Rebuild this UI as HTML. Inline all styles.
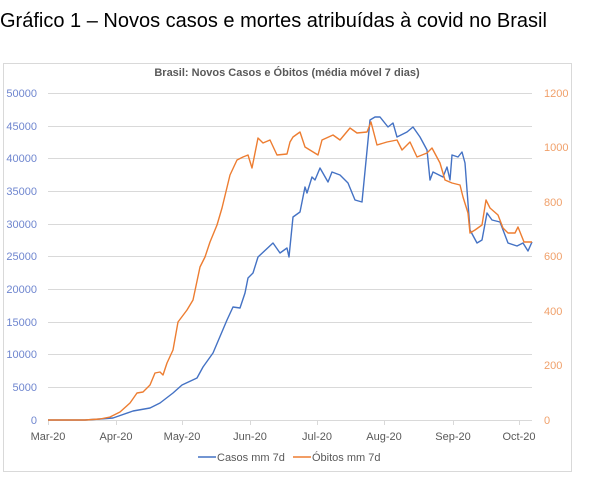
<!DOCTYPE html><html><head><meta charset="utf-8"><style>
body{margin:0;background:#fff;width:600px;height:492px;overflow:hidden;font-family:"Liberation Sans",sans-serif}
</style></head><body>
<svg width="600" height="492" xmlns="http://www.w3.org/2000/svg" font-family="Liberation Sans, sans-serif">
<text x="0" y="27" font-size="20" fill="#000">Gráfico 1 – Novos casos e mortes atribuídas à covid no Brasil</text>
<rect x="3.5" y="63.5" width="568" height="408" fill="#fff" stroke="#d9d9d9"/>
<text x="287" y="76" font-size="11" font-weight="bold" fill="#595959" text-anchor="middle">Brasil: Novos Casos  e Óbitos (média móvel 7 dias)</text>
<g stroke="#d9d9d9" stroke-width="1">
<line x1="48" x2="532" y1="93.5" y2="93.5"/><line x1="48" x2="532" y1="126.5" y2="126.5"/><line x1="48" x2="532" y1="158.5" y2="158.5"/><line x1="48" x2="532" y1="191.5" y2="191.5"/><line x1="48" x2="532" y1="224.5" y2="224.5"/><line x1="48" x2="532" y1="256.5" y2="256.5"/><line x1="48" x2="532" y1="289.5" y2="289.5"/><line x1="48" x2="532" y1="322.5" y2="322.5"/><line x1="48" x2="532" y1="354.5" y2="354.5"/><line x1="48" x2="532" y1="387.5" y2="387.5"/><line x1="48" x2="532" y1="420.5" y2="420.5"/>
<line x1="48.5" x2="48.5" y1="420" y2="425"/><line x1="116.5" x2="116.5" y1="420" y2="425"/><line x1="182.5" x2="182.5" y1="420" y2="425"/><line x1="250.5" x2="250.5" y1="420" y2="425"/><line x1="317.5" x2="317.5" y1="420" y2="425"/><line x1="384.5" x2="384.5" y1="420" y2="425"/><line x1="453.5" x2="453.5" y1="420" y2="425"/><line x1="519.5" x2="519.5" y1="420" y2="425"/>
</g>
<g font-size="11" fill="#6f86cf" text-anchor="end">
<text x="37" y="97">50000</text><text x="37" y="130">45000</text><text x="37" y="162">40000</text><text x="37" y="195">35000</text><text x="37" y="228">30000</text><text x="37" y="260">25000</text><text x="37" y="293">20000</text><text x="37" y="326">15000</text><text x="37" y="358">10000</text><text x="37" y="391">5000</text><text x="37" y="424">0</text>
</g>
<g font-size="11" fill="#f0a06a">
<text x="544" y="97">1200</text><text x="544" y="151">1000</text><text x="544" y="206">800</text><text x="544" y="260">600</text><text x="544" y="315">400</text><text x="544" y="369">200</text><text x="544" y="424">0</text>
</g>
<g font-size="11" fill="#595959" text-anchor="middle">
<text x="48" y="440">Mar-20</text><text x="116" y="440">Apr-20</text><text x="182" y="440">May-20</text><text x="250" y="440">Jun-20</text><text x="317" y="440">Jul-20</text><text x="384" y="440">Aug-20</text><text x="453" y="440">Sep-20</text><text x="519" y="440">Oct-20</text>
</g>
<polyline fill="none" stroke="#4472c4" stroke-width="1.4" stroke-linejoin="round" points="48,420 85,420 100,419 113,418 133,411 150,408 160,403 173,393 182,385 197,378 203,367 213,353 227,320 233,307 240,308 245,293 248,278 253,273 258,257 273,243 280,253 287,248 289,257 293,217 300,212 305,187 307,193 312,177 315,180 320,168 328,182 332,172 340,175 348,183 355,200 362,202 370,120 375,117 380,117 388,127 393,123 397,137 407,132 413,127 420,137 427,150 430,180 433,172 443,177 447,167 450,180 452,155 458,157 462,152 465,163 470,230 477,243 482,240 487,213 492,220 500,222 508,243 517,246 523,243 528,251 532,242"/>
<polyline fill="none" stroke="#ed7d31" stroke-width="1.4" stroke-linejoin="round" points="48,420 85,420 100,419 110,417 120,412 130,403 137,393 143,392 150,385 155,373 160,372 163,375 167,363 173,350 178,322 187,310 193,300 200,267 205,257 210,242 217,225 222,208 230,175 237,160 243,157 248,155 252,168 258,138 263,143 270,140 277,155 287,154 290,142 293,137 300,132 305,147 318,155 322,140 333,135 340,140 350,128 357,133 367,132 371,122 377,145 387,142 397,140 402,150 410,142 417,157 427,153 432,148 440,163 445,180 452,183 460,185 463,197 468,213 470,233 475,230 482,225 486,200 490,208 498,215 503,228 508,233 515,233 518,227 524,242 532,242"/>
<line x1="198" x2="216" y1="457" y2="457" stroke="#4472c4" stroke-width="1.5"/>
<text x="217" y="461" font-size="11" fill="#595959">Casos mm 7d</text>
<line x1="293" x2="311" y1="457" y2="457" stroke="#ed7d31" stroke-width="1.5"/>
<text x="312" y="461" font-size="11" fill="#595959">Óbitos mm 7d</text>
</svg>
</body></html>
